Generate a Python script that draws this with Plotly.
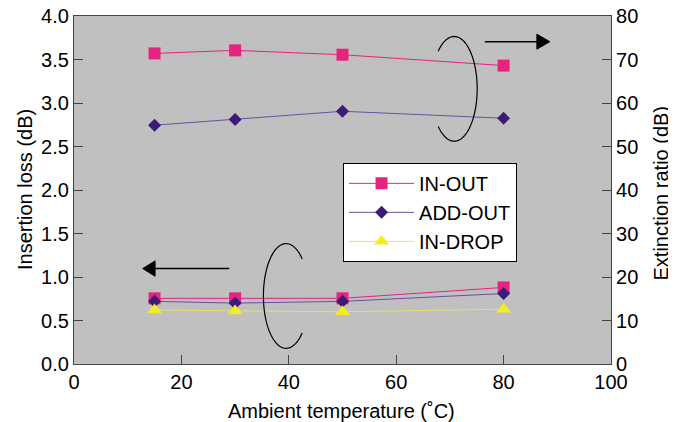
import numpy as np
import plotly.graph_objects as go

# ---- data ----
temperature = [15, 30, 50, 80]

# Insertion loss (left axis, dB)
il_in_out = [0.755, 0.755, 0.755, 0.88]
il_add_out = [0.72, 0.70, 0.72, 0.81]
il_in_drop = [0.62, 0.61, 0.60, 0.63]

# Extinction ratio (right axis, dB)
er_in_out = [71.4, 72.1, 71.1, 68.6]
er_add_out = [54.9, 56.2, 58.1, 56.5]

series_names = ["IN-OUT", "ADD-OUT", "IN-DROP"]
x_ticks = [0, 20, 40, 60, 80, 100]
left_ticks = [0.0, 0.5, 1.0, 1.5, 2.0, 2.5, 3.0, 3.5, 4.0]
right_ticks = [0, 10, 20, 30, 40, 50, 60, 70, 80]

x_title = "Ambient temperature (˚C)"
left_title = "Insertion loss (dB)"
right_title = "Extinction ratio (dB)"

PINK = "#E5247F"
PURPLE = "#3E1A78"
YELLOW = "#F3EE1E"
FONT = "Liberation Sans, Arial, sans-serif"

fig = go.Figure()

styles = {
    "IN-OUT": dict(color=PINK, symbol="square", size=12, line=dict(color=PINK, width=1)),
    "ADD-OUT": dict(color=PURPLE, symbol="diamond", size=10, line=dict(color="#6A4FA3", width=1)),
    "IN-DROP": dict(color=YELLOW, symbol="triangle-up", size=13, line=dict(color="#E6E070", width=1)),
}

for name, vals in zip(series_names, [il_in_out, il_add_out, il_in_drop]):
    st = styles[name]
    fig.add_trace(go.Scatter(
        x=temperature, y=vals, name=name, mode="lines+markers", legendgroup=name,
        line=st["line"],
        marker=dict(color=st["color"], symbol=st["symbol"], size=st["size"], line=dict(width=0)),
        yaxis="y",
    ))

for name, vals in zip(series_names[:2], [er_in_out, er_add_out]):
    st = styles[name]
    fig.add_trace(go.Scatter(
        x=temperature, y=vals, name=name, mode="lines+markers", legendgroup=name,
        showlegend=False,
        line=st["line"],
        marker=dict(color=st["color"], symbol=st["symbol"], size=st["size"], line=dict(width=0)),
        yaxis="y2",
    ))

# ---- annotation shapes: ellipse arcs and arrows (left-axis data coords) ----
def arc_path(cx, a, cy, b, t0, t1, n=80):
    ts = np.radians(np.linspace(t0, t1, n))
    xs = cx + a * np.cos(ts)
    ys = cy + b * np.sin(ts)
    return "M " + " L ".join(f"{x:.4f},{y:.4f}" for x, y in zip(xs, ys))

shapes = [
    dict(type="path", xref="x", yref="y", path=arc_path(70.8, 4.28, 3.163, 0.602, 134, -134),
         line=dict(color="black", width=1.2)),
    dict(type="path", xref="x", yref="y", path=arc_path(39.5, 4.23, 0.782, 0.602, 45, 315),
         line=dict(color="black", width=1.2)),
    # right-pointing arrow
    dict(type="line", xref="x", yref="y", x0=76.5, y0=3.705, x1=86.4, y1=3.705,
         line=dict(color="black", width=1.5)),
    dict(type="path", xref="x", yref="y", path="M 86.2,3.791 L 88.6,3.705 L 86.2,3.619 Z",
         fillcolor="black", line=dict(color="black", width=1)),
    # left-pointing arrow
    dict(type="line", xref="x", yref="y", x0=28.9, y0=1.097, x1=14.9, y1=1.097,
         line=dict(color="black", width=1.5)),
    dict(type="path", xref="x", yref="y", path="M 15.1,1.185 L 12.8,1.097 L 15.1,1.009 Z",
         fillcolor="black", line=dict(color="black", width=1)),
]

annotations = [
    dict(text=x_title, xref="paper", yref="paper", x=0.498, y=0, xanchor="center", yanchor="middle",
         yshift=-47, showarrow=False, font=dict(family=FONT, size=20, color="black")),
    dict(text=left_title, xref="paper", yref="paper", x=0, y=0.5, xanchor="center", yanchor="middle",
         xshift=-49, textangle=-90, showarrow=False, font=dict(family=FONT, size=20, color="black")),
    dict(text=right_title, xref="paper", yref="paper", x=1, y=0.49, xanchor="center", yanchor="middle",
         xshift=50, textangle=-90, showarrow=False, font=dict(family=FONT, size=20, color="black")),
]

axis_common = dict(
    showline=True, linecolor="#444", linewidth=1.2,
    ticks="inside", tickcolor="#444", ticklen=9, tickwidth=1,
    showgrid=False, zeroline=False, automargin=False, ticklabeloverflow="allow",
    tickfont=dict(family=FONT, size=20, color="black"),
)

# page body has an 8px margin, so the figure is 8px smaller on each side
fig.update_layout(
    width=668, height=414,
    margin=dict(l=66, r=65, t=8, b=58),
    paper_bgcolor="white",
    plot_bgcolor="#C0C0C0",
    font=dict(family=FONT, size=20, color="black"),
    shapes=shapes,
    annotations=annotations,
    xaxis=dict(range=[0, 100], tickvals=x_ticks, mirror=True, **axis_common),
    yaxis=dict(range=[0, 4], tickvals=left_ticks, tickformat=".1f", **axis_common),
    yaxis2=dict(range=[0, 80], tickvals=right_ticks, overlaying="y", side="right", **axis_common),
    legend=dict(
        x=0.501, y=0.578, xanchor="left", yanchor="top",
        bgcolor="white", bordercolor="black", borderwidth=1,
        font=dict(family=FONT, size=20, color="black"),
        tracegroupgap=0, itemwidth=65,
    ),
)

fig.write_html("out.html")
